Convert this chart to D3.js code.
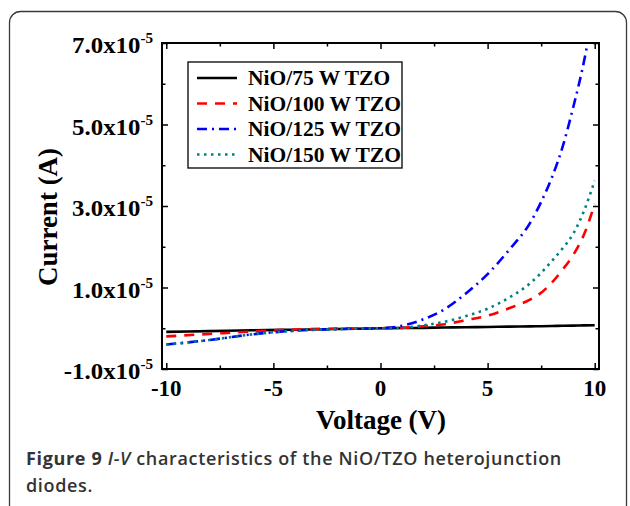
<!DOCTYPE html>
<html lang="en">
<head>
<meta charset="utf-8">
<title>I-V characteristics</title>
<script src="https://cdn.jsdelivr.net/npm/d3@7"></script>
<style>
  body { margin: 0; background: #fff; }
  svg { display: block; }
</style>
</head>
<body>
<script>
// voltage (V) and current in units of 1e-5 A
var voltage = [-10, -8, -6, -4, -2, 0, 1, 2, 3, 4, 5, 6, 7, 7.5, 8, 8.5, 9, 9.5, 10];
var i75  = [-0.09, -0.07, -0.05, -0.035, -0.02, 0, 0.005, 0.01, 0.02, 0.025, 0.03, 0.04, 0.045, 0.05, 0.055, 0.06, 0.065, 0.07, 0.075];
var i100 = [-0.2, -0.14, -0.08, -0.03, -0.01, 0, 0.01, 0.05, 0.1, 0.2, 0.31, 0.49, 0.71, 0.87, 1.12, 1.44, 1.8, 2.3, 3.05];
var i125 = [-0.4, -0.29, -0.15, -0.06, -0.02, 0, 0.06, 0.22, 0.47, 0.86, 1.33, 1.92, 2.6, 3.1, 3.7, 4.45, 5.43, 6.55, 8.0];
var i150 = [-0.4, -0.29, -0.15, -0.06, -0.02, 0, 0.01, 0.07, 0.16, 0.3, 0.48, 0.75, 1.11, 1.36, 1.65, 1.96, 2.32, 2.88, 3.62];

var seriesNames = ["NiO/75 W TZO", "NiO/100 W TZO", "NiO/125 W TZO", "NiO/150 W TZO"];
var xTicks = [-10, -5, 0, 5, 10];
var xMinor = [-7.5, -2.5, 2.5, 7.5];
var yTicks = [-1, 1, 3, 5, 7];
var yMinor = [0, 2, 4, 6];
var yTickLabels = ["-1.0x10", "1.0x10", "3.0x10", "5.0x10", "7.0x10"];

var w = 630, h = 506;
// plot area edges (don't name these top/left, those clash with window globals)
var pL = 162, pR = 599, pT = 43, pB = 369;

var svg = d3.select("body").append("svg")
    .attr("width", w)
    .attr("height", h);

// outer rounded frame of the figure panel
svg.append("rect")
    .attr("x", 9.5).attr("y", 11.5)
    .attr("width", 617).attr("height", 505)
    .attr("rx", 11).attr("ry", 11)
    .attr("fill", "none")
    .attr("stroke", "#3a3a3a")
    .attr("stroke-width", 1.3);

var x = d3.scaleLinear().domain([-10.2, 10.2]).range([pL, pR]);
var y = d3.scaleLinear().domain([-1, 7]).range([pB, pT]);

svg.append("clipPath").attr("id", "plot")
  .append("rect")
    .attr("x", pL).attr("y", pT)
    .attr("width", pR - pL).attr("height", pB - pT);

var styles = [
  {color: "#000000", dash: null},
  {color: "#ff0000", dash: "10,8"},
  {color: "#0000ff", dash: "10,5,2,5"},
  {color: "#008080", dash: "2.5,4.5"}
];
var currents = [i75, i100, i125, i150];

var line = d3.line()
    .x(function(d) { return x(d[0]); })
    .y(function(d) { return y(d[1]); })
    .curve(d3.curveMonotoneX);

svg.append("g").attr("clip-path", "url(#plot)")
  .selectAll("path")
  .data(currents)
  .enter()
  .append("path")
    .attr("d", function(c) { return line(voltage.map(function(v, i) { return [v, c[i]]; })); })
    .attr("fill", "none")
    .attr("stroke", function(c, i) { return styles[i].color; })
    .attr("stroke-width", 2.6)
    .attr("stroke-dasharray", function(c, i) { return styles[i].dash; });

// axes, ticks pointing inward on all four sides
function axisStyle(g) {
  g.select(".domain").remove();
  g.selectAll("line").attr("stroke", "#000").attr("stroke-width", 1.5);
  g.selectAll("text").remove();
}
svg.append("g").attr("transform", "translate(0," + pB + ")")
    .call(d3.axisBottom(x).tickValues(xTicks).tickSize(-6)).call(axisStyle);
svg.append("g").attr("transform", "translate(0," + pB + ")")
    .call(d3.axisBottom(x).tickValues(xMinor).tickSize(-3.5)).call(axisStyle);
svg.append("g").attr("transform", "translate(0," + pT + ")")
    .call(d3.axisTop(x).tickValues(xTicks).tickSize(-6)).call(axisStyle);
svg.append("g").attr("transform", "translate(0," + pT + ")")
    .call(d3.axisTop(x).tickValues(xMinor).tickSize(-3.5)).call(axisStyle);
svg.append("g").attr("transform", "translate(" + pL + ",0)")
    .call(d3.axisLeft(y).tickValues(yTicks).tickSize(-6)).call(axisStyle);
svg.append("g").attr("transform", "translate(" + pL + ",0)")
    .call(d3.axisLeft(y).tickValues(yMinor).tickSize(-3.5)).call(axisStyle);
svg.append("g").attr("transform", "translate(" + pR + ",0)")
    .call(d3.axisRight(y).tickValues(yTicks).tickSize(-6)).call(axisStyle);
svg.append("g").attr("transform", "translate(" + pR + ",0)")
    .call(d3.axisRight(y).tickValues(yMinor).tickSize(-3.5)).call(axisStyle);

svg.append("rect")
    .attr("x", pL).attr("y", pT)
    .attr("width", pR - pL).attr("height", pB - pT)
    .attr("fill", "none")
    .attr("stroke", "#000")
    .attr("stroke-width", 2);

var serif = "'Liberation Serif', 'Times New Roman', serif";

// x tick labels
svg.selectAll("text.xt")
  .data(xTicks)
  .enter()
  .append("text")
    .attr("class", "xt")
    .attr("x", function(d) { return x(d); })
    .attr("y", 395.5)
    .attr("text-anchor", "middle")
    .attr("font-family", serif)
    .attr("font-weight", "bold")
    .attr("font-size", "23px")
    .text(function(d) { return d; });

// y tick labels with superscript exponent
var yl = svg.selectAll("text.yt")
  .data(yTicks)
  .enter()
  .append("text")
    .attr("class", "yt")
    .attr("transform", function(d) { return "translate(153," + (y(d) + 10) + ") scale(1.08,1)"; })
    .attr("text-anchor", "end")
    .attr("font-family", serif)
    .attr("font-weight", "bold")
    .attr("font-size", "23px");
yl.append("tspan").text(function(d, i) { return yTickLabels[i]; });
yl.append("tspan")
    .attr("font-size", "14px")
    .attr("dy", -10)
    .text("-5");

// axis titles
svg.append("text")
    .attr("x", 381).attr("y", 429)
    .attr("text-anchor", "middle")
    .attr("font-family", serif)
    .attr("font-weight", "bold")
    .attr("font-size", "27px")
    .text("Voltage (V)");

svg.append("text")
    .attr("transform", "translate(57,217) rotate(-90)")
    .attr("text-anchor", "middle")
    .attr("font-family", serif)
    .attr("font-weight", "bold")
    .attr("font-size", "27px")
    .text("Current (A)");

// legend
var legend = svg.append("g");
legend.append("rect")
    .attr("x", 188).attr("y", 62)
    .attr("width", 214).attr("height", 106)
    .attr("fill", "#fff")
    .attr("stroke", "#000")
    .attr("stroke-width", 1.3);

var rows = legend.selectAll("g.row")
  .data(seriesNames)
  .enter()
  .append("g")
    .attr("class", "row")
    .attr("transform", function(d, i) { return "translate(0," + (85 + i * 25.5) + ")"; });
rows.append("line")
    .attr("x1", 197).attr("x2", 237)
    .attr("y1", -7).attr("y2", -7)
    .attr("stroke", function(d, i) { return styles[i].color; })
    .attr("stroke-width", 2.6)
    .attr("stroke-dasharray", function(d, i) { return styles[i].dash; });
rows.append("text")
    .attr("x", 248)
    .attr("font-family", serif)
    .attr("font-weight", "bold")
    .attr("font-size", "21.5px")
    .text(function(d) { return d; });

// caption
var sans = "'Open Sans', 'Noto Sans', sans-serif";
var cap = svg.append("text")
    .attr("x", 26).attr("y", 465)
    .attr("font-family", sans)
    .attr("font-size", "18px")
    .attr("letter-spacing", "0.65px")
    .attr("font-weight", 600)
    .attr("fill", "#333");
cap.append("tspan").attr("font-weight", "bold").text("Figure 9 ");
cap.append("tspan").attr("font-style", "italic").text("I-V");
cap.append("tspan").text(" characteristics of the NiO/TZO heterojunction");

svg.append("text")
    .attr("x", 26).attr("y", 492)
    .attr("font-family", sans)
    .attr("font-size", "18px")
    .attr("letter-spacing", "0.65px")
    .attr("font-weight", 600)
    .attr("fill", "#333")
    .text("diodes.");
</script>
</body>
</html>
